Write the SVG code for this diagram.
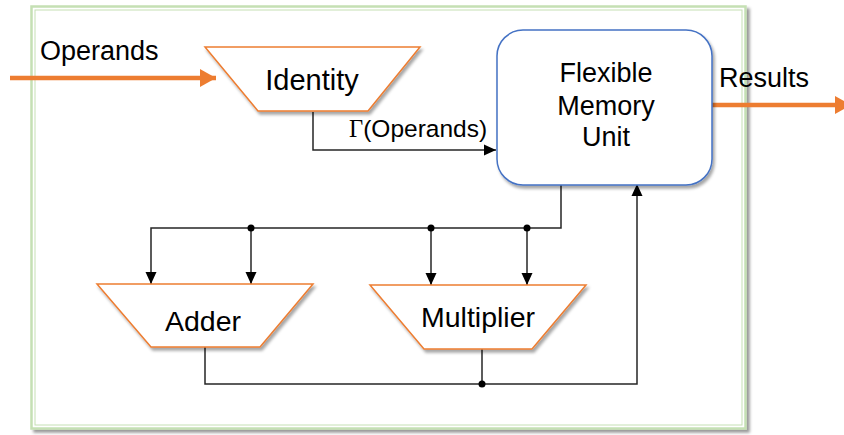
<svg xmlns="http://www.w3.org/2000/svg" width="844" height="435" viewBox="0 0 844 435">
  <style>
    .lbl { font-family: "Liberation Sans", Arial, sans-serif; fill: #000; }
    .trap { fill: #fff; stroke: #ed7d31; stroke-width: 1.5; filter: url(#sh); }
    .wire { fill: none; stroke: #262626; stroke-width: 1.5; }
    .dot { fill: #000; }
    .orange { fill: none; stroke: #ed7d31; stroke-width: 4.5; }
  </style>
  <defs>
    <filter id="sh" x="-10%" y="-10%" width="130%" height="140%">
      <feDropShadow dx="2" dy="3" stdDeviation="1.8" flood-color="#000" flood-opacity="0.35"/>
    </filter>
    <filter id="fsh" x="-5%" y="-5%" width="110%" height="110%">
      <feDropShadow dx="3" dy="3" stdDeviation="1.5" flood-color="#000" flood-opacity="0.4"/>
    </filter>
    <marker id="ah" markerUnits="userSpaceOnUse" markerWidth="12" markerHeight="12" refX="12" refY="6" orient="auto">
      <path d="M0,0.5 L12,6 L0,11.5 z" fill="#000"/>
    </marker>
    <marker id="oah" markerUnits="userSpaceOnUse" markerWidth="17" markerHeight="18" refX="16" refY="9" orient="auto">
      <path d="M0,0 L16,9 L0,18 z" fill="#ed7d31"/>
    </marker>
  </defs>

  <rect width="844" height="435" fill="#fff"/>

  <!-- frame -->
  <g id="frame">
    <rect x="31.5" y="6.5" width="714" height="422" fill="#fff" stroke="#c5e0b4" stroke-width="2.5" filter="url(#fsh)"/>
    <rect x="35" y="10" width="707" height="415" fill="none" stroke="#c5e0b4" stroke-width="1"/>
  </g>

  <!-- connectors -->
  <g id="connectors">
    <line class="orange" x1="10" y1="78" x2="216" y2="78" marker-end="url(#oah)"/>
    <line class="orange" x1="712" y1="105" x2="851" y2="105" marker-end="url(#oah)"/>
    <path class="wire" d="M313,112 V150 H496" marker-end="url(#ah)"/>
    <path class="wire" d="M561,185 V228 H151 V284" marker-end="url(#ah)"/>
    <path class="wire" d="M251,228 V284" marker-end="url(#ah)"/>
    <path class="wire" d="M431,228 V285" marker-end="url(#ah)"/>
    <path class="wire" d="M527,228 V285" marker-end="url(#ah)"/>
    <path class="wire" d="M205,347 V384 H637 V184" marker-end="url(#ah)"/>
    <path class="wire" d="M482,349 V384"/>
    <circle class="dot" cx="251" cy="228" r="3.5"/>
    <circle class="dot" cx="431" cy="228" r="3.5"/>
    <circle class="dot" cx="527" cy="228" r="3.5"/>
    <circle class="dot" cx="482" cy="384" r="3.5"/>
    <text class="lbl" x="40" y="60" font-size="27">Operands</text>
    <text class="lbl" x="719" y="87" font-size="27">Results</text>
    <text x="349" y="137" font-size="24.5" font-family="'Liberation Sans', Arial, sans-serif"><tspan font-family="'Liberation Serif', 'Times New Roman', serif">Γ</tspan>(Operands)</text>
  </g>

  <g id="identity">
    <polygon class="trap" points="205,47 420,47 368,111 258,111"/>
    <text class="lbl" x="312" y="90" font-size="29" text-anchor="middle">Identity</text>
  </g>

  <g id="fmu">
    <rect x="497" y="30" width="215" height="155" rx="26" ry="26" fill="#fff" stroke="#4472c4" stroke-width="1.5" filter="url(#sh)"/>
    <text class="lbl" x="606" y="82" font-size="27" text-anchor="middle">Flexible</text>
    <text class="lbl" x="606" y="115" font-size="27" text-anchor="middle">Memory</text>
    <text class="lbl" x="606" y="146" font-size="27" text-anchor="middle">Unit</text>
  </g>

  <g id="adder">
    <polygon class="trap" points="97,284 313,284 260,347 151,347"/>
    <text class="lbl" x="203" y="331" font-size="28.5" text-anchor="middle">Adder</text>
  </g>

  <g id="multiplier">
    <polygon class="trap" points="370,285 586,285 532,349 424,349"/>
    <text class="lbl" x="478" y="327" font-size="28.5" text-anchor="middle">Multiplier</text>
  </g>
</svg>
